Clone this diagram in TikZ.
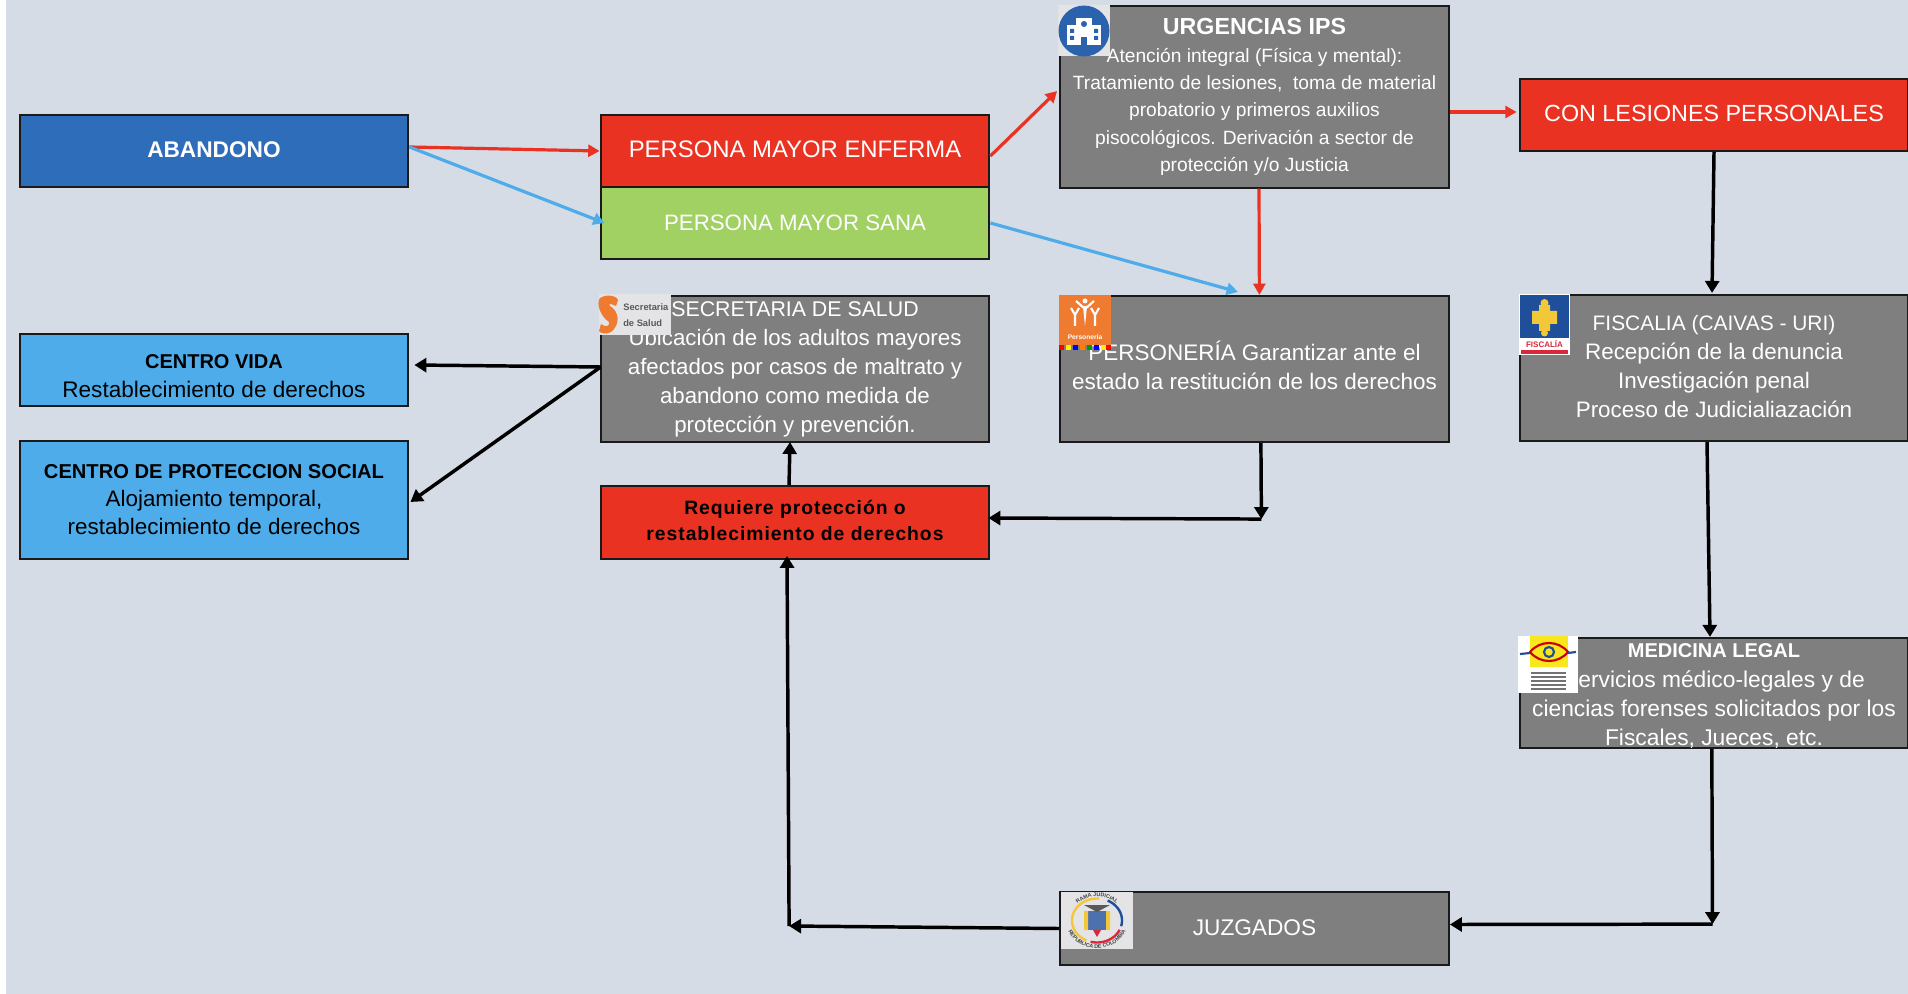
\documentclass[tikz,border=0pt]{standalone}
\usepackage{fontspec}
\setmainfont{Liberation Sans}
\usetikzlibrary{arrows.meta,calc,decorations.text}
\definecolor{bgc}{HTML}{D6DCE5}
\definecolor{bluebox}{HTML}{2E6DB9}
\definecolor{redbox}{HTML}{EA3223}
\definecolor{greenbox}{HTML}{A1D063}
\definecolor{greybox}{HTML}{7F7F7F}
\definecolor{skybox}{HTML}{4DACE9}
\definecolor{skyline}{HTML}{4DACE9}
\definecolor{edge}{HTML}{1A1A1A}
\definecolor{hospblue}{HTML}{2B62AD}
\definecolor{logoback}{HTML}{E4E4E6}
\definecolor{orangelogo}{HTML}{EE7B30}
\definecolor{fisblue}{HTML}{1F4E9A}
\definecolor{fisyellow}{HTML}{F2C738}
\definecolor{fisred}{HTML}{D9283A}
\definecolor{legalyellow}{HTML}{F8E71C}
\newcommand{\fs}[2]{\fontsize{#1}{#2}\selectfont}
\tikzset{
  x=0.75pt,y=-0.75pt,
  flowbox/.style={draw=edge,line width=1.6pt,minimum width=291.5pt,align=center,inner sep=0pt,text=white},
  redflow/.style={-{Triangle[length=8.5pt,width=9pt]},draw=redbox,line width=2.4pt},
  blueflow/.style={-{Triangle[length=8.5pt,width=9pt]},draw=skyline,line width=2.4pt},
  blackflow/.style={-{Triangle[length=9pt,width=10.5pt]},draw=black,line width=2.6pt},
  logotext/.style={inner sep=0pt},
}
\begin{document}
\begin{tikzpicture}
\useasboundingbox (0,0) rectangle (1908,994);
\fill[white] (0,0) rectangle (1908,994);
\fill[bgc] (6,0) rectangle (1908,994);

\node[flowbox,fill=bluebox,minimum height=54.5pt,font=\bfseries\fs{17}{18}] (abandono) at (214,151) {\raisebox{2pt}{ABANDONO}};
\node[flowbox,fill=redbox,minimum height=54pt,font=\fs{17.9}{18}] (enferma) at (795,151) {\raisebox{2pt}{PERSONA MAYOR ENFERMA}};
\node[flowbox,fill=greenbox,minimum height=54pt,font=\fs{16.7}{18}] (sana) at (795,223) {\raisebox{1pt}{PERSONA MAYOR SANA}};
\node[flowbox,fill=greybox,minimum height=136pt,font=\fs{14.4}{20.5}] (urgencias) at (1254.5,97) {{\bfseries\fs{17.4}{20.5}URGENCIAS IPS}\\Atención integral (Física y mental):\\Tratamiento de lesiones,\ \ toma de material\\probatorio y primeros auxilios\\pisocológicos. Derivación a sector de\\protección y/o Justicia};
\node[flowbox,fill=redbox,minimum height=54pt,font=\fs{17.5}{18}] (lesiones) at (1714,115) {\raisebox{2pt}{CON LESIONES PERSONALES}};
\node[flowbox,fill=skybox,minimum height=54pt,text=black,font=\fs{16.9}{21.8}] (vida) at (214,370) {\rule{0pt}{19pt}{\bfseries\fs{15}{21.8}CENTRO VIDA}\\Restablecimiento de derechos};
\node[flowbox,fill=skybox,minimum height=88pt,text=black,font=\fs{16.8}{21}] (proteccion) at (214,500) {\raisebox{1pt}{\bfseries\fs{15.1}{21}CENTRO DE PROTECCION SOCIAL}\\\raisebox{1pt}{Alojamiento temporal,}\\\raisebox{1pt}{restablecimiento de derechos}};
\node[flowbox,fill=greybox,minimum height=109.5pt,font=\fs{16.7}{21.8}] (secretaria) at (795,369) {{\fs{16}{21.8}SECRETARIA DE SALUD}\\Ubicación de los adultos mayores\\afectados por casos de maltrato y\\abandono como medida de\\protección y prevención.};
\node[flowbox,fill=greybox,minimum height=109.5pt,font=\fs{16.85}{21.8}] (personeria) at (1254.5,369) {\raisebox{5.5pt}{PERSONERÍA Garantizar ante el}\\\raisebox{5.5pt}{estado la restitución de los derechos}};
\node[flowbox,fill=greybox,minimum height=109.5pt,font=\fs{16.8}{21.8}] (fiscalia) at (1714,368) {\raisebox{2pt}{\fs{15.7}{21.8}FISCALIA (CAIVAS - URI)}\\\raisebox{2pt}{Recepción de la denuncia}\\\raisebox{2pt}{Investigación penal}\\\raisebox{2pt}{Proceso de Judicialiazación}};
\node[flowbox,fill=redbox,minimum height=54.5pt,text=black,font=\bfseries\fs{14.5}{20}\addfontfeature{LetterSpace=5}] (requiere) at (795,522.5) {\raisebox{3pt}{Requiere protección o}\\\raisebox{3pt}{restablecimiento de derechos}};
\node[flowbox,fill=greybox,minimum height=82.5pt,font=\fs{17.1}{21.8}] (medicina) at (1714,693) {\rule{0pt}{15pt}{\bfseries\fs{15}{21.8}MEDICINA LEGAL}\\Servicios médico-legales y de\\ciencias forenses solicitados por los\\Fiscales, Jueces, etc.};
\node[flowbox,fill=greybox,minimum height=54.5pt,font=\fs{17}{18}] (juzgados) at (1254.5,928.5) {\raisebox{1pt}{JUZGADOS}};

% hospital logo
\fill[logoback] (1058,5) rectangle (1110,56);
\fill[hospblue] (1084,31) circle[radius=25.5];
\fill[white] (1067,25) rectangle (1101,45);
\fill[white] (1076,18) rectangle (1092,45);
\fill[hospblue] (1081,37) rectangle (1087,45);
\fill[hospblue] (1070,29) rectangle (1074,33) (1094,29) rectangle (1098,33) (1070,36) rectangle (1074,40) (1094,36) rectangle (1098,40);
\fill[hospblue] (1084,24) circle[radius=3];

% secretaria logo
\fill[logoback] (599,294) rectangle (671,335);
\fill[orangelogo] (600,298) .. controls (608,293) and (618,297) .. (618,300) -- (616,306) .. controls (610,303) and (608,304) .. (610,306) .. controls (620,312) and (620,325) .. (611,332) .. controls (606,335) and (600,333) .. (599,331) -- (601,324) .. controls (606,328) and (610,326) .. (609,322) .. controls (600,316) and (596,303) .. (600,298) -- cycle;
\node[logotext,text=black!65,font=\bfseries\fs{7}{8},anchor=west] (seclogoa) at (623,307) {Secretaria};
\node[logotext,text=black!65,font=\bfseries\fs{7}{8},anchor=west] (seclogob) at (623,323) {de Salud};

% personeria logo
\fill[orangelogo] (1059,295) rectangle (1111,345);
\begin{scope}[white,line width=1.6pt]
\fill (1085,326) -- (1083,306) -- (1087,306) -- cycle;
\draw (1076,301) -- (1085,309) -- (1094,301);
\fill (1085,301) circle[radius=2.5];
\draw (1071,308) -- (1075,315) -- (1079,308) (1075,315) -- (1075,326);
\draw (1091,308) -- (1095,315) -- (1099,308) (1095,315) -- (1095,326);
\end{scope}
\node[logotext,text=white,font=\bfseries\fs{5}{6}] (perlogo) at (1085,337) {Personería};
\foreach \xa/\c in {1059/red,1066/yellow,1073/blue,1080/orange,1087/green!60!black,1094/blue,1101/yellow,1106/red}{
  \fill[\c] (\xa,345) rectangle ++(5,5);
}

% fiscalia logo
\fill[white] (1519,294) rectangle (1570,355);
\fill[fisblue] (1520,295) rectangle (1569,338);
\fill[fisyellow] (1539,305) rectangle (1550,331) (1532,311) rectangle (1557,324);
\fill[fisyellow] (1544.5,303) circle[radius=4] (1544.5,333) circle[radius=3.5];
\node[logotext,text=fisred,font=\bfseries\fs{6}{7}] (fislogo) at (1544.5,344) {FISCALÍA};
\fill[fisred] (1521,350) rectangle (1568,354);

% medicina logo
\fill[white] (1518,636) rectangle (1578,693);
\fill[legalyellow] (1530,636) rectangle (1568,667);
\draw[red!80!black,line width=1.6pt] (1530,652) .. controls (1540,640) and (1558,640) .. (1568,652) .. controls (1558,664) and (1540,664) .. (1530,652) -- cycle;
\draw[fisblue,line width=1.6pt] (1520,654) -- (1530,653) (1568,653) -- (1576,652);
\draw[fisblue,line width=1.6pt] (1549,652) circle[radius=5];
\foreach \yy in {672,676,680,684,688}{\fill[black!55] (1531,\yy) rectangle (1566,\yy+2);}

% juzgados logo
\fill[logoback] (1061,892) rectangle (1133,949);
\path[decorate,decoration={text along path,text align=center,text={|\bfseries\fs{4}{5}\color{black!75}|RAMA JUDICIAL}}] plot[domain=200:340,samples=30] ({1097+27*cos(\x)},{920.5+24*sin(\x)});
\path[decorate,decoration={text along path,text align=center,text={|\bfseries\fs{4}{5}\color{black!75}|REPUBLICA DE COLOMBIA}}] plot[domain=190:-10,samples=30] ({1097+31*cos(\x)},{920.5+28*sin(\x)});
\draw[fisyellow,line width=1.8pt] plot[domain=275:115,samples=30] ({1097+25*cos(\x)},{920.5+22*sin(\x)});
\draw[fisblue,line width=1.8pt] plot[domain=295:375,samples=20] ({1097+25*cos(\x)},{920.5+22*sin(\x)});
\draw[fisred,line width=1.8pt] plot[domain=25:105,samples=20] ({1097+25*cos(\x)},{920.5+22*sin(\x)});
\fill[fisblue!80] (1088,911) rectangle (1106,930);
\fill[fisyellow] (1084,911) rectangle (1088,930) (1106,911) rectangle (1110,930);
\fill[black!65] (1084,905) -- (1110,905) -- (1097,912) -- cycle;
\fill[fisred] (1093,930) -- (1101,930) -- (1097,937) -- cycle;

% connectors
\coordinate (abaout) at ($(abandono.east)+(0,-4)$);
\draw[redflow] (abaout) -- (enferma.west);
\draw[blueflow] (abaout) -- ($(sana.west)+(5,0)$);
\draw[redflow] ($(enferma.east)+(0,5)$) -- ($(urgencias.west)+(-2,-6)$);
\draw[redflow] ($(urgencias.east)+(0,15)$) -- ($(lesiones.west)+(-2,-3)$);
\draw[redflow] ($(urgencias.south)+(4.5,0)$) -- ($(personeria.north)+(4.9,0)$);
\draw[blueflow] (sana.east) -- ($(personeria.north)+(-16.5,-3)$);
\draw[blackflow] (lesiones.south) -- ($(fiscalia.north)+(-2,-1)$);
\draw[blackflow] ($(fiscalia.south)+(-7,0)$) -- ($(medicina.north)+(-4,0)$);
\coordinate (medcorner) at ($(medicina.south)+(-1.5,175)$);
\draw[blackflow] ($(medicina.south)+(-2.2,0)$) -- (medcorner);
\draw[blackflow] (medcorner) -- ($(juzgados.east)+(0,-4)$);
\coordinate (juzcorner) at ($(juzgados.west)+(-270,-2.5)$);
\draw[blackflow] (juzgados.west) -- (juzcorner);
\draw[blackflow] (juzcorner) -- ($(requiere.south)+(-8,-4)$);
\coordinate (percorner) at ($(personeria.south)+(6.9,76)$);
\draw[blackflow] ($(personeria.south)+(6.4,0)$) -- (percorner);
\draw[blackflow] (percorner) -- ($(requiere.east)+(-2,-4.5)$);
\draw[blackflow] ($(requiere.north)+(-6,0)$) -- ($(secretaria.south)+(-5,-1)$);
\coordinate (secout) at ($(secretaria.west)+(1,-2)$);
\draw[blackflow] (secout) -- ($(vida.east)+(5,-5)$);
\draw[blackflow] (secout) -- ($(proteccion.east)+(1,2)$);
\end{tikzpicture}
\end{document}
